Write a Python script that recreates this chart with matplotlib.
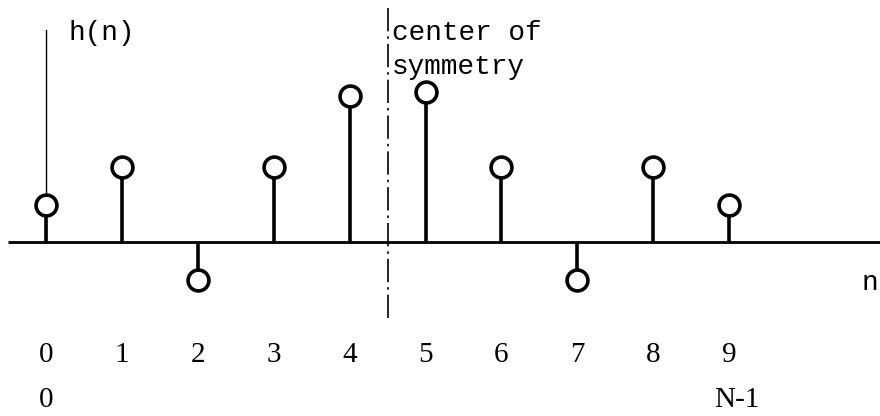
import matplotlib
matplotlib.use("Agg")
import matplotlib.pyplot as plt
import numpy as np

# Symmetric impulse response of a linear-phase FIR filter, N = 10
n = np.arange(10)
h = [0.5, 1.0, -0.5, 1.0, 1.95, 2.0, 1.0, -0.5, 1.0, 0.5]
tick_labels = [str(k) for k in n]
N = len(n)

fig = plt.figure(figsize=(8.8, 4.16), dpi=100)
ax = fig.add_axes([0, 0, 1, 1])
ax.set_xlim(-0.606, 10.988)
ax.set_ylim(-174 / 75, 242 / 75)
ax.axis("off")

ink = "black"
mono = ["Liberation Mono", "DejaVu Sans Mono"]
serif = ["Liberation Serif", "DejaVu Serif"]

# horizontal n axis and the thin vertical h(n) axis
ax.plot([-0.5, 10.99], [0, 0], color=ink, lw=2.0, solid_capstyle="butt", zorder=2)
ax.plot([0, 0], [0, 2.83], color=ink, lw=1.0, zorder=2)

# stems with open circle heads
for k, v in zip(n, h):
    ax.plot([k, k], [0, v], color=ink, lw=2.6, solid_capstyle="butt", zorder=3)
ax.plot(n, h, linestyle="none", marker="o", markersize=15,
        markerfacecolor="white", markeredgecolor=ink, markeredgewidth=2.6, zorder=4)

# center of symmetry at n = (N-1)/2
c = (N - 1) / 2
ax.plot([c, c], [3.12, -1.04], color=ink, lw=1.2, linestyle=(0, (14, 3, 1.5, 3)), zorder=1)
ax.text(c + 0.06, 2.79, "center of", fontsize=20, family=mono, ha="left", va="center", color=ink)
ax.text(c + 0.06, 2.33, "symmetry", fontsize=20, family=mono, ha="left", va="center", color=ink)

ax.text(0.29, 2.79, "h(n)", fontsize=20, family=mono, ha="left", va="center", color=ink)
ax.text(10.74, -0.55, "n", fontsize=20, family=mono, ha="left", va="center", color=ink)

# index labels
for k, lab in zip(n, tick_labels):
    ax.text(k, -1.51, lab, fontsize=21, family=serif, ha="center", va="center", color=ink)
ax.text(0, -2.11, "0", fontsize=21, family=serif, ha="center", va="center", color=ink)
ax.text(8.81, -2.11, "N-1", fontsize=21, family=serif, ha="left", va="center", color=ink)

fig.savefig("out.png", dpi=100, facecolor="white")
